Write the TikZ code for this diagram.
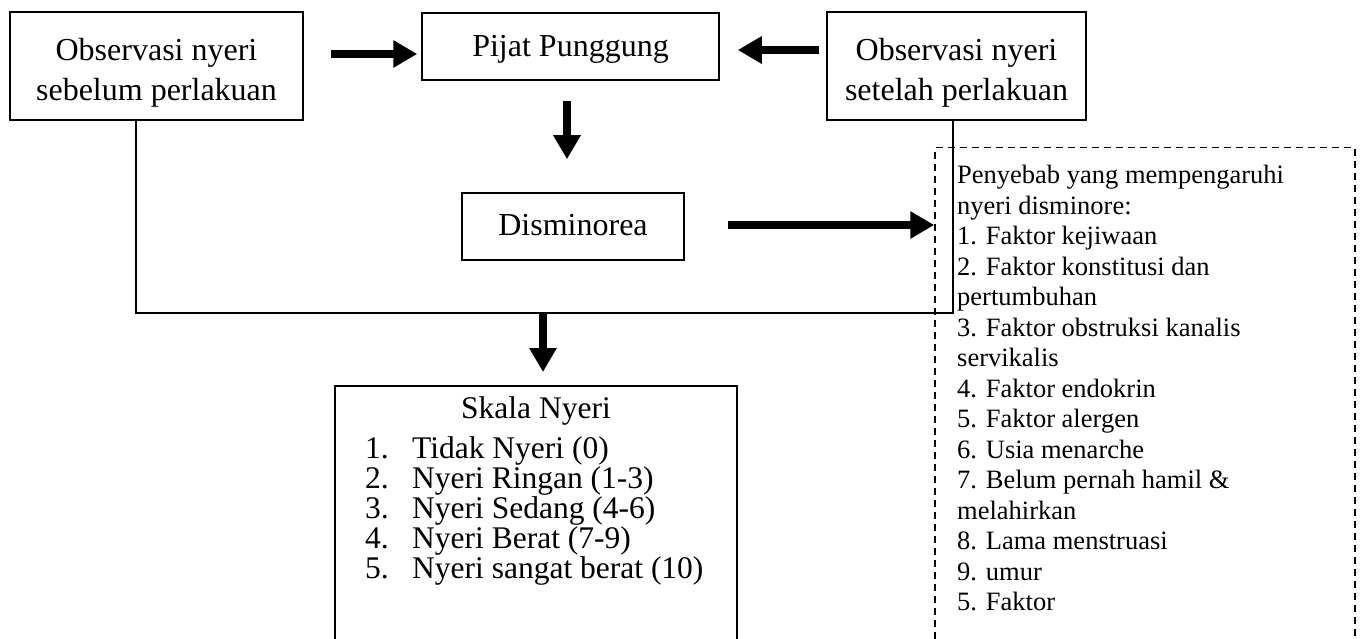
\documentclass[tikz,border=0pt]{standalone}
\usepackage{fontspec}
\setmainfont{Liberation Serif}
\usetikzlibrary{arrows.meta,calc}
\tikzset{
  box/.style={draw=black, line width=1.5pt, inner sep=0pt},
  boxtext/.style={inner sep=0pt, align=center, font=\fontsize{32}{40}\selectfont},
  bigarrow/.style={line width=8pt, -{Triangle[length=24pt,width=26pt]}},
  thin/.style={line width=1.5pt},
  dashbox/.style={draw=black, line width=1.5pt, dash pattern=on 7pt off 5pt, inner sep=0pt},
  txt/.style={inner sep=0pt, align=left}
}
\begin{document}
\begin{tikzpicture}[x=1pt,y=-1pt]
\path[use as bounding box] (0,0) rectangle (1365,639);
\clip (0,0) rectangle (1365,639);
\fill[white] (0,0) rectangle (1365,639);

% top boxes
\node[box, minimum width=293pt, minimum height=108pt] (A) at (156.5,66) {};
\node[boxtext] (At) at ($(A.center)+(0,7)$) {Observasi nyeri\\sebelum perlakuan};
\node[box, minimum width=297pt, minimum height=67pt] (P) at (570.5,46.5) {};
\node[boxtext] (Pt) at ($(P.center)+(0,3)$) {Pijat Punggung};
\node[box, minimum width=259pt, minimum height=108pt] (B) at (956.5,66) {};
\node[boxtext] (Bt) at ($(B.center)+(0,7)$) {Observasi nyeri\\setelah perlakuan};
\node[box, minimum width=222pt, minimum height=67pt] (D) at (573,226.5) {};
\node[boxtext] (Dt) at ($(D.center)+(0,-1)$) {Disminorea};

% Skala box (open at the bottom edge)
\node[box, minimum width=402pt, minimum height=300pt, anchor=north] (S) at (536,385) {};
\node[inner sep=0pt, anchor=base, font=\fontsize{31.5}{30}\selectfont] (St) at (536,418) {Skala Nyeri};
\node[txt, anchor=north west, font=\fontsize{31.5}{30}\selectfont] (Sl) at (365,436)
 {\makebox[47pt][l]{1.}Tidak Nyeri (0)\\
  \makebox[47pt][l]{2.}Nyeri Ringan (1-3)\\
  \makebox[47pt][l]{3.}Nyeri Sedang (4-6)\\
  \makebox[47pt][l]{4.}Nyeri Berat (7-9)\\
  \makebox[47pt][l]{5.}Nyeri sangat berat (10)};

% dashed factor box
\node[dashbox, minimum width=420pt, minimum height=560pt, anchor=north] (F) at (1145,147) {};
\node[txt, anchor=north west, font=\fontsize{26.5}{30.5}\selectfont] (Ft) at (957,165)
 {Penyebab yang mempengaruhi\\
  nyeri disminore:\\
  1. Faktor kejiwaan\\
  2. Faktor konstitusi dan\\
  pertumbuhan\\
  3. Faktor obstruksi kanalis\\
  servikalis\\
  4. Faktor endokrin\\
  5. Faktor alergen\\
  6. Usia menarche\\
  7. Belum pernah hamil \&\\
  melahirkan\\
  8. Lama menstruasi\\
  9. umur\\
  5. Faktor};

% junction coordinates
\coordinate (J1) at (136,313);
\coordinate (J2) at (953,313);
\coordinate (J3) at (543,313);

% connectors
\draw[bigarrow] ($(A.east)+(27,-12)$) -- ($(P.west)+(-4,7.5)$);
\draw[bigarrow] ($(B.west)+(-7,-16)$) -- ($(P.east)+(18,3.5)$);
\draw[bigarrow] ($(P.south)+(-3.5,20)$) -- ($(D.north)+(-6,-33)$);
\draw[bigarrow] ($(D.east)+(43,-1.5)$) -- (F.west |- 0,225);
\draw[thin] (A.south -| J1) -- (J1) -- (J2) -- (B.south -| J2);
\draw[bigarrow] (J3) -- ($(S.north -| J3)+(0,-13)$);
\end{tikzpicture}
\end{document}
